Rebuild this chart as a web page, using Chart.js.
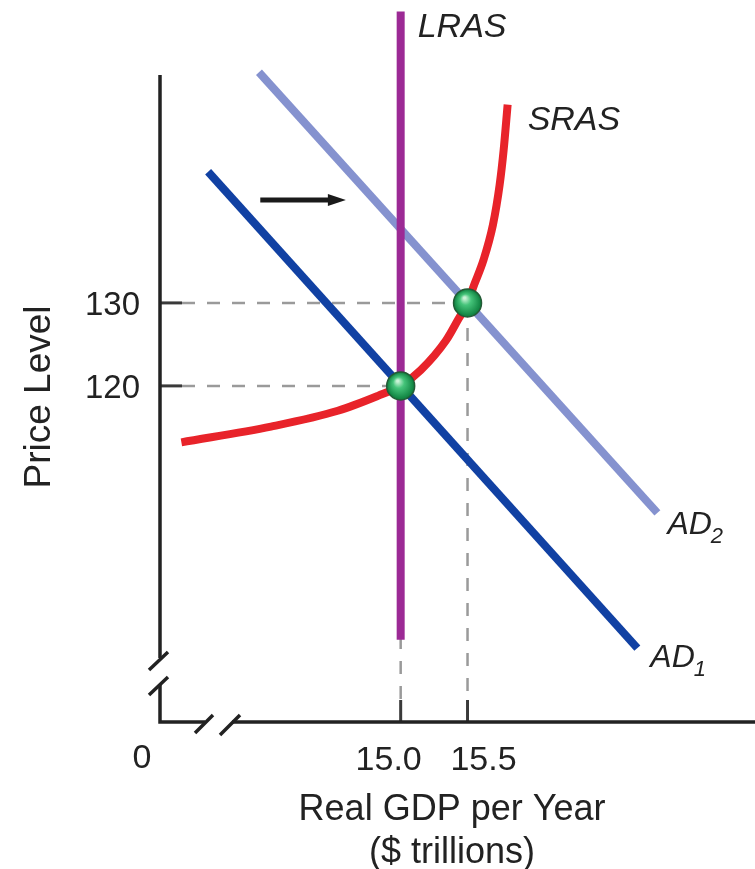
<!DOCTYPE html>
<html><head><meta charset="utf-8">
<script src="https://cdn.jsdelivr.net/npm/chart.js@4.4.0/dist/chart.umd.min.js"></script>
<style>html,body{margin:0;padding:0;background:#fff;overflow:hidden}</style>
</head><body>
<canvas id="c" width="755" height="869" style="display:block;width:755px;height:869px"></canvas>
<script>
// ---- data ----
const xTickValues = [15.0, 15.5];
const xTickLabels = ['15.0', '15.5'];
const yTickValues = [120, 130];
const yTickLabels = ['120', '130'];
const equilibriumX = [15.0, 15.5];
const equilibriumY = [120, 130];
const lrasX = [15.0, 15.0];
const lrasY = [89.4, 165.1];
const ad1X = [13.56, 16.77];
const ad1Y = [145.8, 88.4];
const ad2X = [13.94, 16.92];
const ad2Y = [157.8, 104.7];
const srasX = [13.36, 14.03, 14.53, 14.83, 15.0, 15.15, 15.34, 15.43, 15.5, 15.55, 15.62, 15.69, 15.74, 15.77, 15.80];
const srasY = [113.2, 115.1, 117.0, 118.8, 120, 121.9, 125.5, 128.0, 130, 132.2, 135.2, 139.4, 144.2, 148.4, 153.9];
const shiftArrowX = [13.95, 14.59];
const shiftArrowY = [142.4, 142.4];
const curveLabels = ['LRAS', 'SRAS', 'AD', 'AD'];
const adSubscripts = ['1', '2'];
const xAxisTitle = ['Real GDP per Year', '($ trillions)'];
const yAxisTitle = 'Price Level';
const originLabel = '0';

const pts = (xs, ys) => xs.map((x, i) => ({x, y: ys[i]}));
const FONT = '"Liberation Sans", Arial, Helvetica, sans-serif';

const deco = {
  id: 'deco',
  beforeDatasetsDraw(chart) {
    const {ctx, chartArea: a, scales: {x, y}} = chart;
    ctx.save();
    // dashed guides
    ctx.strokeStyle = '#9a9a9a'; ctx.lineWidth = 2.5; ctx.setLineDash([13, 12]);
    equilibriumX.forEach((vx, i) => {
      const px = x.getPixelForValue(vx), py = y.getPixelForValue(equilibriumY[i]);
      ctx.beginPath(); ctx.moveTo(a.left + 22, py); ctx.lineTo(px, py); ctx.stroke();
      ctx.beginPath(); ctx.moveTo(px, py); ctx.lineTo(px, a.bottom - 22); ctx.stroke();
    });
    ctx.setLineDash([]);
    // solid ticks
    ctx.strokeStyle = '#3a3a3a'; ctx.lineWidth = 3;
    yTickValues.forEach(v => { const py = y.getPixelForValue(v);
      ctx.beginPath(); ctx.moveTo(a.left, py); ctx.lineTo(a.left + 22, py); ctx.stroke(); });
    xTickValues.forEach(v => { const px = x.getPixelForValue(v);
      ctx.beginPath(); ctx.moveTo(px, a.bottom); ctx.lineTo(px, a.bottom - 22); ctx.stroke(); });
    // axes with break marks
    ctx.strokeStyle = '#222'; ctx.lineWidth = 3.5; ctx.lineCap = 'butt';
    const L = a.left, B = a.bottom;
    ctx.beginPath();
    ctx.moveTo(L, a.top + 75); ctx.lineTo(L, B - 64);
    ctx.moveTo(L, B - 38); ctx.lineTo(L, B);
    ctx.lineTo(L + 45, B);
    ctx.moveTo(L + 72, B); ctx.lineTo(a.right, B);
    ctx.stroke();
    ctx.beginPath();
    ctx.moveTo(L - 11, B - 52); ctx.lineTo(L + 8, B - 70);
    ctx.moveTo(L - 11, B - 27); ctx.lineTo(L + 8, B - 45);
    ctx.moveTo(L + 35, B + 11); ctx.lineTo(L + 53, B - 7);
    ctx.moveTo(L + 60, B + 13); ctx.lineTo(L + 80, B - 7);
    ctx.stroke();
    ctx.restore();
  },
  afterDatasetsDraw(chart) {
    const {ctx, chartArea: a, scales: {x, y}} = chart;
    ctx.save();
    // shift arrow
    const ax0 = x.getPixelForValue(shiftArrowX[0]), ax1 = x.getPixelForValue(shiftArrowX[1]);
    const ay = y.getPixelForValue(shiftArrowY[0]);
    ctx.strokeStyle = '#1a1a1a'; ctx.fillStyle = '#1a1a1a'; ctx.lineWidth = 5;
    ctx.beginPath(); ctx.moveTo(ax0, ay); ctx.lineTo(ax1 - 14, ay); ctx.stroke();
    ctx.beginPath(); ctx.moveTo(ax1, ay); ctx.lineTo(ax1 - 18, ay - 6); ctx.lineTo(ax1 - 18, ay + 6); ctx.closePath(); ctx.fill();

    ctx.fillStyle = '#222';
    ctx.textBaseline = 'alphabetic';
    // curve labels
    ctx.font = 'italic 34px ' + FONT; ctx.textAlign = 'left';
    ctx.fillText(curveLabels[0], x.getPixelForValue(lrasX[1]) + 17, 37);
    ctx.fillText(curveLabels[1], x.getPixelForValue(srasX[srasX.length-1]) + 20, 130);
    const adLabel = (xv, yv, dx, dy, sub) => {
      const px = x.getPixelForValue(xv) + dx, py = y.getPixelForValue(yv) + dy;
      ctx.font = 'italic 32px ' + FONT; ctx.fillText(curveLabels[2], px, py);
      const w = ctx.measureText(curveLabels[2]).width;
      ctx.font = 'italic 22px ' + FONT; ctx.fillText(sub, px + w - 1, py + 9);
    };
    adLabel(ad1X[1], ad1Y[1], 13, 19, adSubscripts[0]);
    adLabel(ad2X[1], ad2Y[1], 10, 21, adSubscripts[1]);
    // tick labels
    ctx.font = '33px ' + FONT; ctx.textAlign = 'right';
    yTickValues.forEach((v, i) => ctx.fillText(yTickLabels[i], a.left - 20, y.getPixelForValue(v) + 12));
    ctx.font = '34px ' + FONT; ctx.textAlign = 'center';
    ctx.fillText(xTickLabels[0], x.getPixelForValue(xTickValues[0]) - 12, a.bottom + 48);
    ctx.fillText(xTickLabels[1], x.getPixelForValue(xTickValues[1]) + 16, a.bottom + 48);
    ctx.fillText(originLabel, a.left - 18, a.bottom + 46);
    // axis titles
    ctx.font = '36px ' + FONT;
    ctx.fillText(xAxisTitle[0], 452, a.bottom + 98);
    ctx.fillText(xAxisTitle[1], 452, a.bottom + 141);
    ctx.save();
    ctx.translate(50, 397); ctx.rotate(-Math.PI / 2);
    ctx.font = '37px ' + FONT; ctx.textAlign = 'center';
    ctx.fillText(yAxisTitle, 0, 0);
    ctx.restore();
    ctx.restore();
  }
};

const ballFill = (c) => {
  if (c.type !== 'data' || !c.chart.chartArea) return '#22a050';
  const {x, y} = c.chart.scales;
  const px = x.getPixelForValue(c.parsed.x), py = y.getPixelForValue(c.parsed.y);
  const g = c.chart.ctx.createRadialGradient(px - 3, py - 5, 1, px, py, 14);
  g.addColorStop(0, '#c9f2d6'); g.addColorStop(0.35, '#45c47a'); g.addColorStop(1, '#0b7d3c');
  return g;
};

const line = (data, color, order, extra) => Object.assign({
  data, borderColor: color, borderWidth: 8, showLine: true, pointRadius: 0,
  borderCapStyle: 'butt', fill: false, clip: false, order
}, extra || {});

new Chart(document.getElementById('c'), {
  type: 'scatter',
  data: { datasets: [
    line(pts(ad2X, ad2Y), '#8592cf', 5),
    line(pts(ad1X, ad1Y), '#1141a3', 4),
    line(pts(lrasX, lrasY), '#9c2a95', 3),
    line(pts(srasX, srasY), '#e8232a', 2, {cubicInterpolationMode: 'monotone'}),
    { data: pts(equilibriumX, equilibriumY), showLine: false, pointRadius: 14,
      backgroundColor: ballFill, borderColor: '#245a36', borderWidth: 1.5, clip: false, order: 1 }
  ]},
  options: {
    responsive: false, animation: false, devicePixelRatio: 1,
    layout: { autoPadding: false, padding: { left: 160, right: 0, top: 0, bottom: 147 } },
    scales: {
      x: { type: 'linear', min: 13.2, max: 17.65, display: false },
      y: { type: 'linear', min: 79.5, max: 166.5, display: false }
    },
    plugins: { legend: { display: false }, tooltip: { enabled: false } },
    events: []
  },
  plugins: [deco]
});
</script>
</body></html>
